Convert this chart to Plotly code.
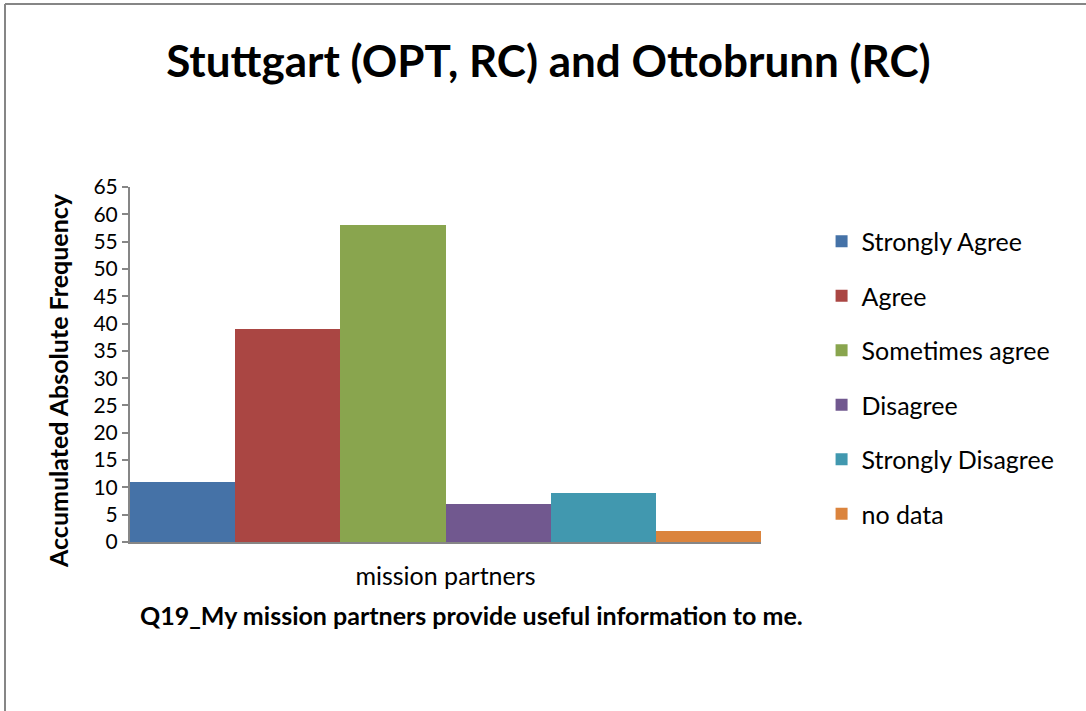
import plotly.graph_objects as go

# survey answer categories and their counts
answers = ["Strongly Agree", "Agree", "Sometimes agree", "Disagree", "Strongly Disagree", "no data"]
counts = [11, 39, 58, 7, 9, 2]
colors = ["#4572A7", "#AA4643", "#89A54E", "#71588F", "#4198AF", "#DB843D"]
category = ["mission partners"]
y_ticks = list(range(0, 70, 5))

FONT = "Lato"

fig = go.Figure()
for i, (name, val, col) in enumerate(zip(answers, counts, colors)):
    fig.add_trace(go.Bar(
        x=category, y=[val], name=name,
        marker=dict(color=col, line=dict(width=0)),
        legendgroup=f"g{i}",
    ))

fig.update_layout(
    width=1086, height=711,
    margin=dict(l=130, r=325, t=187, b=169),
    paper_bgcolor="white", plot_bgcolor="white",
    barmode="group", bargap=0, bargroupgap=0,
    font=dict(family=FONT, size=21, color="black"),
    title=dict(
        text="<b>Stuttgart (OPT, RC) and Ottobrunn (RC)</b>",
        x=0.505, xanchor="center", y=0.913, yanchor="middle",
        font=dict(family=FONT, size=44, color="black"),
    ),
    legend=dict(
        x=1.096, xanchor="left", y=0.911, yanchor="top",
        font=dict(family=FONT, size=25, color="black"),
        tracegroupgap=19, itemwidth=30,
        bgcolor="rgba(0,0,0,0)",
    ),
    showlegend=True,
)

fig.update_xaxes(
    showline=True, linecolor="#868686", linewidth=2,
    ticks="", showgrid=False, ticklabelstandoff=11,
    tickfont=dict(family=FONT, size=25, color="black"),
)
fig.update_yaxes(
    range=[0, 65], tickvals=y_ticks,
    showline=True, linecolor="#868686", linewidth=2,
    ticks="outside", ticklen=6, tickcolor="#868686", tickwidth=2,
    showgrid=False, zeroline=False,
    tickfont=dict(family=FONT, size=21, color="black"),
)

# axis titles
fig.add_annotation(
    text="<b>Accumulated Absolute Frequency</b>", textangle=-90,
    xref="paper", yref="paper", x=(58 - 130) / 631, y=(542 - 381) / 355,
    xanchor="center", yanchor="middle",
    showarrow=False, font=dict(family=FONT, size=25, color="black"),
)
fig.add_annotation(
    text="<b>Q19_My mission partners provide useful information to me.</b>",
    xref="paper", yref="paper", x=(471 - 130) / 631, y=(542 - 615) / 355,
    xanchor="center", yanchor="middle",
    showarrow=False, font=dict(family=FONT, size=25, color="black"),
)

# chart frame (top and left edges visible)
fig.add_shape(type="line", xref="paper", yref="paper",
              x0=(5 - 130) / 631, x1=(1090 - 130) / 631,
              y0=(542 - 4) / 355, y1=(542 - 4) / 355,
              line=dict(color="#868686", width=2))
fig.add_shape(type="line", xref="paper", yref="paper",
              x0=(5 - 130) / 631, x1=(5 - 130) / 631,
              y0=(542 - 4) / 355, y1=(542 - 715) / 355,
              line=dict(color="#868686", width=2))

fig.write_html("out.html", config={"displayModeBar": False},
               post_script="document.body.style.margin='0';")
